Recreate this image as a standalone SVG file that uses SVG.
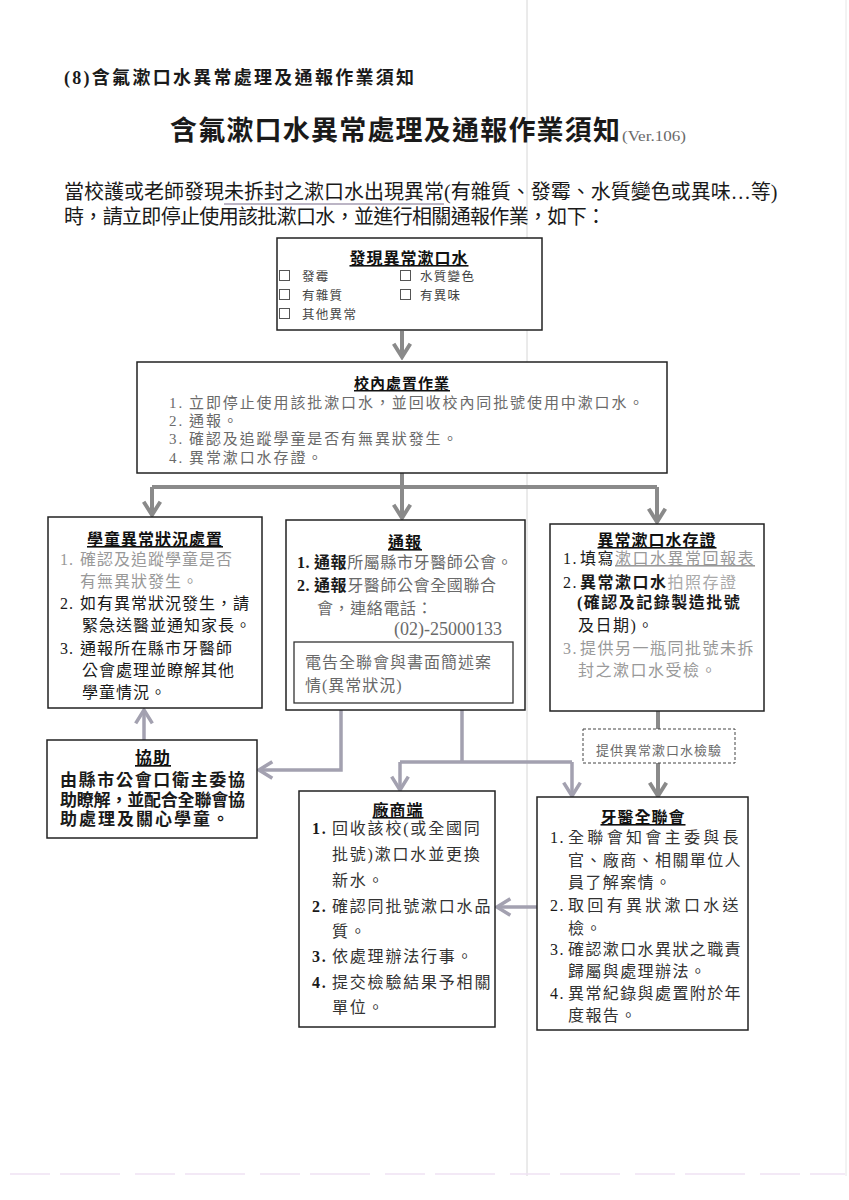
<svg xmlns="http://www.w3.org/2000/svg" width="849" height="1200" viewBox="0 0 849 1200">
<style>
.t{font-family:"Liberation Serif","Noto Sans CJK TC",serif}
.box{fill:#fff;stroke:#222;stroke-width:1.5}
.h{font-weight:bold;text-decoration:underline;text-anchor:middle;fill:#111}
.c{stroke:#8a8a8a;stroke-width:4;fill:none}
.c2{stroke:#a3a1b0;stroke-width:3.5;fill:none}
.g{fill:#6a6a6a}
.lg{fill:#999}
.k{fill:#1a1a1a}
.d{fill:#333}
</style>
<defs>
<marker id="ah" markerUnits="userSpaceOnUse" markerWidth="20" markerHeight="20" viewBox="0 0 18 18" refX="15" refY="9" orient="auto">
<path d="M3,1.5 L15,9 L3,16.5" fill="none" stroke="#8a8a8a" stroke-width="3.5"/>
</marker>
<marker id="ah2" markerUnits="userSpaceOnUse" markerWidth="20" markerHeight="20" viewBox="0 0 18 18" refX="15" refY="9" orient="auto">
<path d="M3,1.5 L15,9 L3,16.5" fill="none" stroke="#a3a1b0" stroke-width="3.2"/>
</marker>
</defs>
<rect width="849" height="1200" fill="#fff"/>
<line x1="527" y1="0" x2="527" y2="1176" stroke="#d6d6d6" stroke-width="1"/>
<line x1="846" y1="0" x2="846" y2="1176" stroke="#e6e6e6" stroke-width="1"/>
<line x1="10" y1="1174" x2="845" y2="1174" stroke="#efe2f3" stroke-width="1.5" stroke-dasharray="40,10,60,15"/>

<g id="header">
<text class="t k" x="64" y="84" font-size="18" font-weight="bold" textLength="350">(8)含氟漱口水異常處理及通報作業須知</text>
<text class="t k" x="170" y="140" font-size="27" font-weight="bold" textLength="450">含氟漱口水異常處理及通報作業須知</text>
<text class="t g" x="622" y="141" font-size="14" textLength="64" lengthAdjust="spacingAndGlyphs">(Ver.106)</text>
<text class="t k" x="64" y="199" font-size="20">當校護或老師發現未拆封之漱口水出現異常(有雜質、發霉、水質變色或異味…等)</text>
<line x1="224" y1="204" x2="444" y2="204" stroke="#7a6d8c" stroke-width="1.2"/>
<text class="t k" x="64" y="224" font-size="20" textLength="542">時，請立即停止使用該批漱口水，並進行相關通報作業，如下：</text>
</g>

<g id="connectors">
<path class="c" d="M402,331 L402,357" marker-end="url(#ah)"/>
<path class="c" d="M402,473 L402,487 M152,487 L657,487"/>
<path class="c" d="M152,487 L152,515" marker-end="url(#ah)"/>
<path class="c" d="M402,487 L402,518" marker-end="url(#ah)"/>
<path class="c" d="M657,487 L657,522" marker-end="url(#ah)"/>
<path class="c2" d="M341,710 L341,770 L259,770" marker-end="url(#ah2)"/>
<path class="c2" d="M144,740 L144,710" marker-end="url(#ah2)"/>
<path class="c2" d="M462,710 L462,762 M400,762 L572,762"/>
<path class="c2" d="M400,762 L400,790" marker-end="url(#ah2)"/>
<path class="c2" d="M572,762 L572,796" marker-end="url(#ah2)"/>
<path class="c" d="M658,711 L658,729"/>
<path class="c" d="M658,763 L658,796" marker-end="url(#ah)"/>
<path class="c2" d="M537,907 L497,907" marker-end="url(#ah2)"/>
</g>

<g id="n-discover">
<rect class="box" x="277" y="238" width="265" height="92"/>
<text class="t h" x="409" y="264" font-size="16" letter-spacing="1">發現異常漱口水</text>
<g fill="none" stroke="#555" stroke-width="1">
<rect x="279.5" y="270.5" width="10" height="10"/>
<rect x="279.5" y="289.5" width="10" height="10"/>
<rect x="279.5" y="308.5" width="10" height="10"/>
<rect x="400.5" y="270.5" width="10" height="10"/>
<rect x="400.5" y="289.5" width="10" height="10"/>
</g>
<g class="t" font-size="12.5" letter-spacing="1.3" fill="#444">
<text x="302" y="281">發霉</text>
<text x="302" y="300">有雜質</text>
<text x="302" y="319">其他異常</text>
<text x="420" y="281">水質變色</text>
<text x="420" y="300">有異味</text>
</g>
</g>

<g id="n-school">
<rect class="box" x="137" y="362" width="530" height="111"/>
<text class="t h" x="402" y="389" font-size="15" letter-spacing="1">校內處置作業</text>
<g class="t g" font-size="15" letter-spacing="1.9">
<text x="169" y="408">1.</text><text x="189" y="408">立即停止使用該批漱口水，並回收校內同批號使用中漱口水。</text>
<text x="169" y="426">2.</text><text x="189" y="426">通報。</text>
<text x="169" y="444">3.</text><text x="189" y="444">確認及追蹤學童是否有無異狀發生。</text>
<text x="169" y="463">4.</text><text x="189" y="463">異常漱口水存證。</text>
</g>
</g>

<g id="n-student">
<rect class="box" x="48" y="517" width="214" height="191"/>
<text class="t h" x="155" y="545" font-size="16" letter-spacing="1">學童異常狀況處置</text>
<g class="t" font-size="16" letter-spacing="1">
<text class="lg" x="60" y="565">1.</text><text class="lg" x="80" y="565">確認及追蹤學童是否</text>
<text class="lg" x="80" y="587">有無異狀發生。</text>
<text class="k" x="60" y="609">2.</text><text class="k" x="80" y="609">如有異常狀況發生，請</text>
<text class="k" x="82" y="631">緊急送醫並通知家長。</text>
<text class="k" x="60" y="654">3.</text><text class="k" x="80" y="654">通報所在縣市牙醫師</text>
<text class="k" x="82" y="676">公會處理並瞭解其他</text>
<text class="k" x="82" y="698">學童情況。</text>
</g>
</g>

<g id="n-report">
<rect class="box" x="286" y="520" width="239" height="190"/>
<text class="t h" x="405" y="548" font-size="16" letter-spacing="1">通報</text>
<g class="t" font-size="16" letter-spacing="0.6">
<text class="k" x="297" y="568" font-weight="bold">1.</text>
<text x="314" y="568"><tspan class="k" font-weight="bold">通報</tspan><tspan class="g">所屬縣市牙醫師公會。</tspan></text>
<text class="k" x="297" y="591" font-weight="bold">2.</text>
<text x="314" y="591"><tspan class="k" font-weight="bold">通報</tspan><tspan class="g">牙醫師公會全國聯合</tspan></text>
<text class="g" x="317" y="614">會，連絡電話：</text>
</g>
<text class="t g" x="502" y="635" font-size="18" text-anchor="end">(02)-25000133</text>
<rect x="294" y="642" width="219" height="61" fill="none" stroke="#333" stroke-width="1.3"/>
<g class="t g" font-size="16" letter-spacing="1">
<text x="305" y="668">電告全聯會與書面簡述案</text>
<text x="305" y="691">情(異常狀況)</text>
</g>
</g>

<g id="n-evidence">
<rect class="box" x="550" y="524" width="214" height="187"/>
<text class="t h" x="657" y="546" font-size="16" letter-spacing="1">異常漱口水存證</text>
<g class="t" font-size="16" letter-spacing="1.5">
<text class="k" x="563" y="564">1.</text>
<text x="580" y="564"><tspan class="k">填寫</tspan><tspan class="lg" text-decoration="underline">漱口水異常回報表</tspan></text>
<text class="k" x="563" y="588">2.</text>
<text x="580" y="588"><tspan class="k" font-weight="bold">異常漱口水</tspan><tspan fill="#aaa">拍照存證</tspan></text>
<text class="k" x="577" y="608" font-weight="bold">(確認及記錄製造批號</text>
<text class="k" x="578" y="631">及日期)。</text>
<text class="lg" x="563" y="654">3.</text><text class="lg" x="580" y="654">提供另一瓶同批號未拆</text>
<text class="lg" x="578" y="676">封之漱口水受檢。</text>
</g>
</g>

<g id="n-inspect">
<rect x="583" y="729" width="152" height="34" fill="#fff" stroke="#444" stroke-width="1" stroke-dasharray="3,2"/>
<text class="t g" x="659" y="755" font-size="13" text-anchor="middle" letter-spacing="1">提供異常漱口水檢驗</text>
</g>

<g id="n-assist">
<rect class="box" x="47" y="740" width="210" height="98"/>
<text class="t h" x="153" y="764" font-size="17" letter-spacing="1">協助</text>
<g class="t k" font-size="17" font-weight="bold">
<text x="60" y="786" textLength="185">由縣市公會口衛主委協</text>
<text x="60" y="806" textLength="185">助瞭解，並配合全聯會協</text>
<text x="60" y="825" letter-spacing="2">助處理及關心學童。</text>
</g>
</g>

<g id="n-vendor">
<rect class="box" x="299" y="791" width="196" height="236"/>
<text class="t h" x="398" y="816" font-size="16" letter-spacing="1">廠商端</text>
<g class="t d" font-size="16" letter-spacing="1.8">
<text class="k" x="312" y="834" font-weight="bold">1.</text><text x="332" y="834">回收該校(或全國同</text>
<text x="332" y="860">批號)漱口水並更換</text>
<text x="332" y="886">新水。</text>
<text class="k" x="312" y="912" font-weight="bold">2.</text><text x="332" y="912">確認同批號漱口水品</text>
<text x="332" y="937">質。</text>
<text class="k" x="312" y="962" font-weight="bold">3.</text><text x="332" y="962">依處理辦法行事。</text>
<text class="k" x="312" y="988" font-weight="bold">4.</text><text x="332" y="988">提交檢驗結果予相關</text>
<text x="332" y="1013">單位。</text>
</g>
</g>

<g id="n-federation">
<rect class="box" x="537" y="797" width="211" height="233"/>
<text class="t h" x="643" y="823" font-size="16" letter-spacing="1">牙醫全聯會</text>
<g class="t d" font-size="16" letter-spacing="1.4">
<text class="k" x="550" y="843">1.</text><text x="568" y="843" textLength="172">全聯會知會主委與長</text>
<text x="568" y="866">官、廠商、相關單位人</text>
<text x="568" y="888">員了解案情。</text>
<text class="k" x="550" y="911">2.</text><text x="568" y="911" textLength="172">取回有異狀漱口水送</text>
<text x="568" y="934">檢。</text>
<text class="k" x="550" y="955">3.</text><text x="568" y="955">確認漱口水異狀之職責</text>
<text x="568" y="977">歸屬與處理辦法。</text>
<text class="k" x="550" y="999">4.</text><text x="568" y="999">異常紀錄與處置附於年</text>
<text x="568" y="1021">度報告。</text>
</g>
</g>
</svg>
